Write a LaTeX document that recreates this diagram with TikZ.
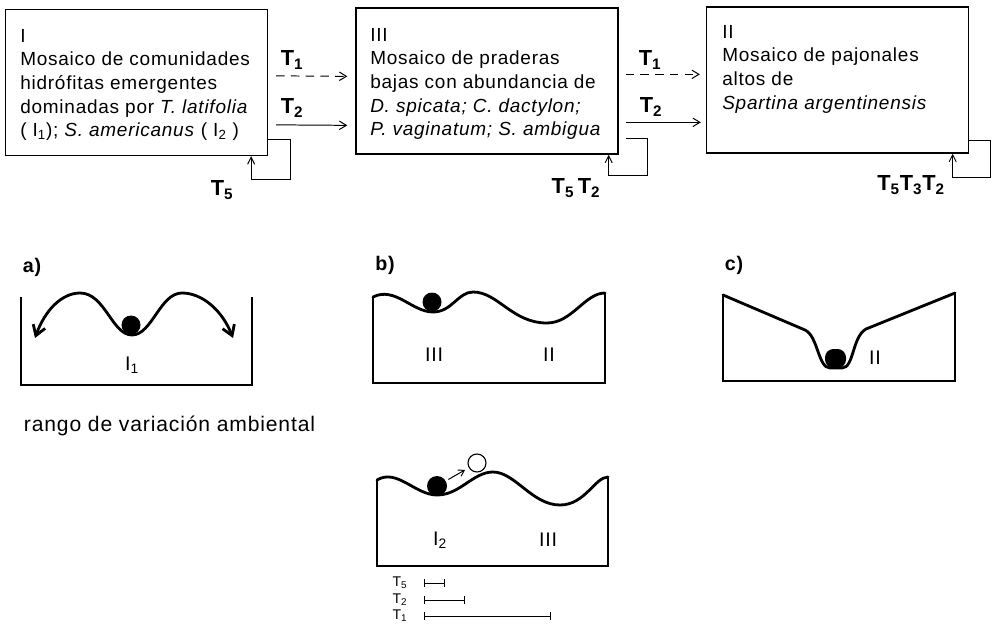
\documentclass[tikz,border=0pt]{standalone}
\usepackage{fontspec}
\setmainfont{Liberation Sans}[LetterSpace=4]
\usepackage{tikz}
\usetikzlibrary{arrows.meta, positioning, calc}
\tikzset{
  phase/.style={rectangle, draw, line width=0.9pt, minimum width=6.55cm,
                minimum height=3.65cm, inner sep=0pt},
  phasetxt/.style={anchor=north west, inner sep=0pt, align=left,
                   font=\fontsize{13.5}{16.8}\selectfont},
  trans/.style={-{Straight Barb[length=5pt,width=6pt]}, line width=0.7pt},
  selfloop/.style={-{Straight Barb[length=5pt,width=5pt]}, line width=0.7pt},
  tlab/.style={font=\fontsize{15.5}{17}\selectfont\bfseries, inner sep=1pt},
  paneltag/.style={font=\fontsize{14}{16}\selectfont\bfseries},
  well/.style={line width=2pt, line cap=round, line join=round},
  wall/.style={line width=1pt},
  ballnode/.style={circle, fill=black, minimum size=0.5cm, inner sep=0pt},
  numeral/.style={font=\fontsize{14}{16}\selectfont},
  rng/.style={{Bar[width=5pt]}-{Bar[width=5pt]}, line width=0.6pt},
  rnglab/.style={font=\fontsize{10}{12}\selectfont, inner sep=0pt},
}
\begin{document}
\begin{tikzpicture}[x=0.025cm, y=-0.025cm]
  \useasboundingbox (0,0) rectangle (992,625);
  \node[phase] (boxI) at (136.5,82.5) {};
  \node[phase] (boxIII) at (487,81) {};
  \node[phase] (boxII) at (837.5,80) {};
  \node[phasetxt] (txtI) at (20,29) {I\\Mosaico de comunidades\\hidrófitas emergentes\\dominadas por \textit{T. latifolia}\\( I\textsubscript{1}); \textit{S. americanus} ( I\textsubscript{2} )};
  \node[phasetxt] (txtIII) at (370,28) {III\\Mosaico de praderas\\bajas con abundancia de\\\textit{D. spicata; C. dactylon;}\\\textit{P. vaginatum; S. ambigua}};
  \node[phasetxt] (txtII) at (722,25) {II\\Mosaico de pajonales\\altos de\\\textit{Spartina argentinensis}};

  \draw[trans, dash pattern=on 6pt off 4.5pt] ($(boxI.north east)+(8,67)$) -- ($(boxIII.north west)+(-8,69)$);
  \draw[trans] ($(boxI.north east)+(8,116)$) -- ($(boxIII.north west)+(-8,118)$);
  \draw[trans, dash pattern=on 6pt off 4.5pt] ($(boxIII.north east)+(7,67)$) -- ($(boxII.north west)+(-6,68)$);
  \draw[trans] ($(boxIII.north east)+(7,115)$) -- ($(boxII.north west)+(-5,116)$);
  \node[tlab] (t1a) at (292,60) {T\textsubscript{1}};
  \node[tlab] (t2a) at (292,108) {T\textsubscript{2}};
  \node[tlab] (t1b) at (650,60) {T\textsubscript{1}};
  \node[tlab] (t2b) at (651,107) {T\textsubscript{2}};

  \draw[selfloop] ($(boxI.south east)+(0,-17)$) -- ++(22,0) -- ++(0,40) -| ($(boxI.south east)+(-17,0)$);
  \draw[selfloop] ($(boxIII.south east)+(7,-16)$) -- ++(22,0) -- ++(0,37) -| ($(boxIII.south east)+(-10,0)$);
  \draw[selfloop] ($(boxII.south east)+(0,-13)$) -- ++(21,0) -- ++(0,37) -| ($(boxII.south east)+(-16.5,0)$);
  \node[tlab] (loopI) at (222,190) {T\textsubscript{5}};
  \node[tlab] (loopIII) at (576,188) {T\textsubscript{5}\,T\textsubscript{2}};
  \node[tlab] (loopII) at (911,185) {T\textsubscript{5}T\textsubscript{3}T\textsubscript{2}};

  \node[paneltag] (tagA) at (32,267) {a)};
  \node[paneltag] (tagB) at (385,265) {b)};
  \node[paneltag] (tagC) at (734,265) {c)};

  \draw[wall] (21,297) -- (21,385) -- (252,385) -- (252,297);
  \draw[well, {Straight Barb[length=7pt,width=9pt]}-{Straight Barb[length=7pt,width=9pt]}] (35,338) .. controls (45,310) and (62,293) .. (80,293) .. controls (105,293) and (112,335) .. (132,335) .. controls (152,335) and (160,293) .. (182,293) .. controls (202,293) and (222,310) .. (233,338);
  \node[ballnode, minimum size=0.475cm] (ballA) at (131,325) {};
  \node[numeral] (lI1) at (132,365) {I\textsubscript{1}};

  \draw[wall] (373,297) -- (373,383) -- (605,383) -- (605,293);
  \draw[well] (373,297) .. controls (395,286) and (412,312) .. (433,312) .. controls (452,312) and (458,292) .. (473,292) .. controls (498,292) and (512,323) .. (547,323) .. controls (572,323) and (585,293) .. (605,293);
  \node[ballnode, minimum size=0.475cm] (ballB) at (432,302) {};
  \node[numeral] (lIIIb) at (434,355) {III};
  \node[numeral] (lIIb) at (549,355) {II};

  \draw[wall] (723,295) -- (723,381) -- (955,381) -- (955,293);
  \draw[well] (723,295) -- (805,330) .. controls (818,336) and (818,368) .. (830,368) -- (842,368) .. controls (854,368) and (852,337) .. (866,329) -- (955,293);
  \fill[rounded corners=6] (825,349) rectangle (846,368);
  \node[numeral] (lIIc) at (875,358) {II};

  \node[anchor=west, font=\fontsize{15}{17}\selectfont] (rango) at (19,426) {rango de variación ambiental};

  \draw[wall] (377,480) -- (377,566) -- (608,566) -- (608,477);
  \draw[well] (377,480) .. controls (397,468) and (415,495) .. (437,495) .. controls (460,495) and (473,472) .. (493,472) .. controls (515,472) and (532,505) .. (560,505) .. controls (585,505) and (595,477) .. (608,477);
  \node[ballnode] (ballD) at (437,486) {};
  \node[ballnode, fill=none, draw, line width=0.8pt, minimum size=0.45cm] (ballNext) at (477,463) {};
  \draw[-{Straight Barb[length=4pt,width=5pt]}, line width=0.7pt, shorten <=2pt, shorten >=3pt] (ballD) -- (ballNext);
  \node[numeral] (lI2) at (440,540) {I\textsubscript{2}};
  \node[numeral] (lIIId) at (548,540) {III};

  \node[rnglab] (r5) at (400,583) {T\textsubscript{5}};
  \node[rnglab] (r2) at (400,600) {T\textsubscript{2}};
  \node[rnglab] (r1) at (400,616) {T\textsubscript{1}};
  \coordinate (r0) at (424,0);
  \draw[rng] (r0 |- r5) -- ++(21,0);
  \draw[rng] (r0 |- r2) -- ++(41,0);
  \draw[rng] (r0 |- r1) -- ++(127,0);
\end{tikzpicture}
\end{document}
